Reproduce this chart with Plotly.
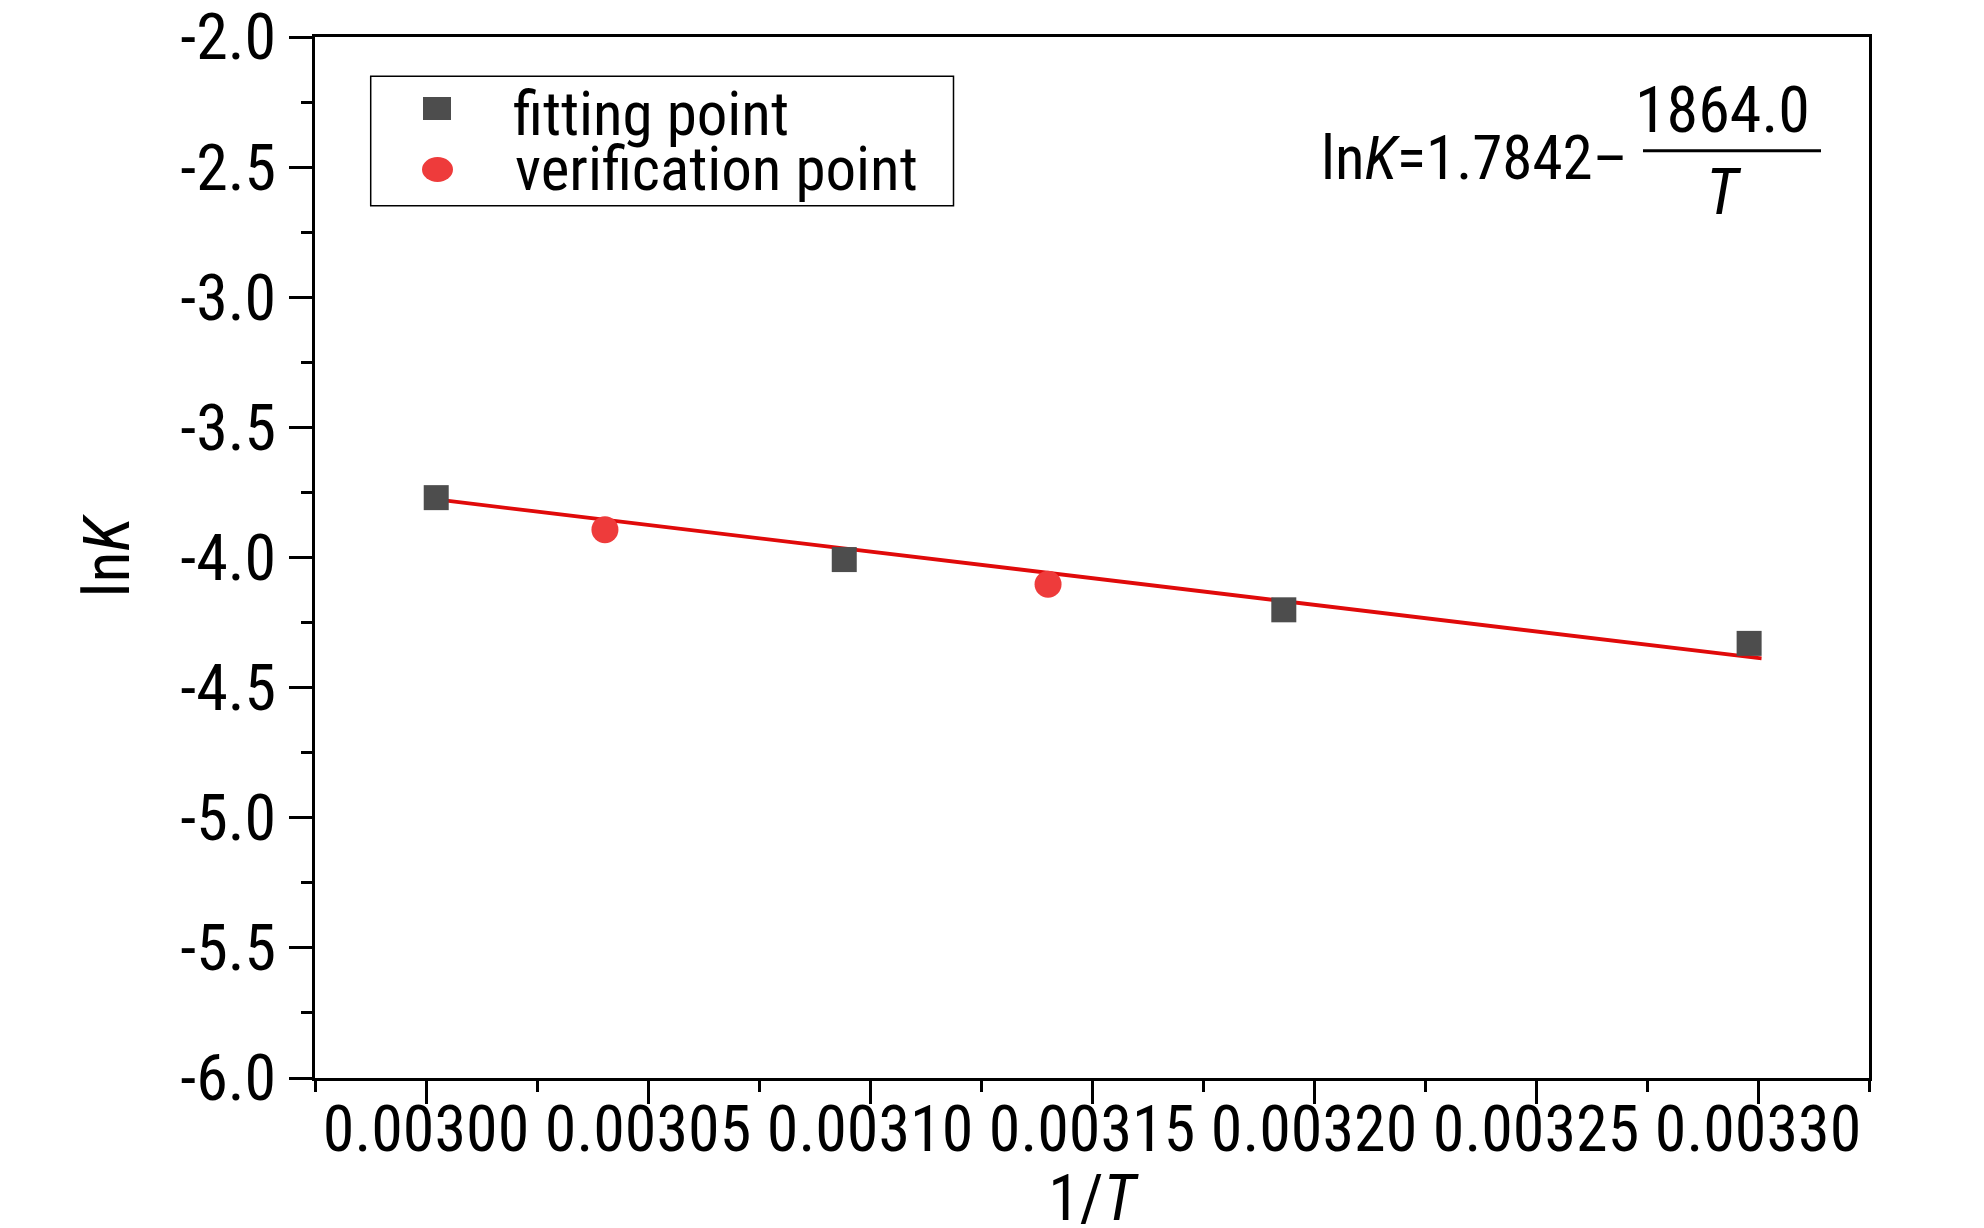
import plotly.graph_objects as go

# data
fit_x = [0.0030023, 0.0030942, 0.0031932, 0.0032980]
fit_y = [-3.770, -4.008, -4.201, -4.330]
ver_x = [0.0030403, 0.0031401]
ver_y = [-3.893, -4.103]
line_x = [0.0030023, 0.0033008]
line_y = [-3.777, -4.388]

x_ticks = [0.00300, 0.00305, 0.00310, 0.00315, 0.00320, 0.00325, 0.00330]
x_tick_text = ["0.00300", "0.00305", "0.00310", "0.00315", "0.00320", "0.00325", "0.00330"]
y_ticks = [-6.0, -5.5, -5.0, -4.5, -4.0, -3.5, -3.0, -2.5, -2.0]
y_tick_text = ["-6.0", "-5.5", "-5.0", "-4.5", "-4.0", "-3.5", "-3.0", "-2.5", "-2.0"]

FONT = "Roboto Condensed, Archivo Narrow, Liberation Sans, sans-serif"
FS = 64
W, H = 1984, 1228
L, R, T, B = 307, 1861, 29, 1070


def px(x):
    return (x - L) / (R - L)


def py(y):
    return (B - y) / (B - T)


fig = go.Figure()
fig.add_trace(go.Scatter(x=line_x, y=line_y, mode="lines",
                         line=dict(color="#E00A0A", width=3.8), showlegend=False))
fig.add_trace(go.Scatter(x=fit_x, y=fit_y, mode="markers", name="fitting point",
                         marker=dict(symbol="square", size=25, color="#4D4D4D"), showlegend=False))
fig.add_trace(go.Scatter(x=ver_x, y=ver_y, mode="markers", name="verification point",
                         marker=dict(symbol="circle", size=27, color="#EE3B3B"), showlegend=False))

axis_common = dict(
    showline=True, linewidth=3, linecolor="black", mirror=True,
    ticks="outside", ticklen=23, tickwidth=3, tickcolor="black",
    showgrid=False, zeroline=False, automargin=False, ticklabeloverflow="allow",
    tickfont=dict(family=FONT, size=FS, color="black"),
)

fig.update_xaxes(
    range=[0.002975 - 1e-9, 0.003325 + 1e-9], tickvals=x_ticks, ticktext=x_tick_text, tickangle=0,
    ticklabelstandoff=-30,
    minor=dict(dtick=0.000025, tick0=0.002975, ticks="outside", ticklen=11, tickwidth=3, tickcolor="black"),
    title=dict(text="1/<i>T</i>", font=dict(family=FONT, size=FS, color="black"), standoff=4),
    **axis_common,
)
fig.update_yaxes(
    range=[-6.0, -2.0], tickvals=y_ticks, ticktext=y_tick_text,
    minor=dict(dtick=0.25, tick0=-6.0, ticks="outside", ticklen=11, tickwidth=3, tickcolor="black"),
    title=dict(text="ln<i>K</i>", font=dict(family=FONT, size=FS, color="black"), standoff=30),
    **axis_common,
)

# legend drawn by hand so the rows sit as tight as in the original
shapes = [
    dict(type="rect", xref="paper", yref="paper", x0=px(362.7), x1=px(945.5), y0=py(197.7), y1=py(68.3),
         line=dict(color="black", width=1.5), fillcolor="rgba(0,0,0,0)"),
    dict(type="rect", xref="paper", yref="paper", x0=px(415), x1=px(443), y0=py(112), y1=py(89),
         line=dict(width=0), fillcolor="#4D4D4D"),
    dict(type="circle", xref="paper", yref="paper", x0=px(414), x1=px(445), y0=py(174), y1=py(149),
         line=dict(width=0), fillcolor="#EE3B3B"),
    # fraction bar of the equation
    dict(type="line", xref="paper", yref="paper", x0=px(1635), x1=px(1813), y0=py(142.7), y1=py(142.7),
         line=dict(color="black", width=3)),
]

txt_font = dict(family=FONT, size=61, color="black")
num_font = dict(family=FONT, size=FS, color="black")
annotations = [
    dict(text="fitting point", x=px(503), y=py(106), xanchor="left", yanchor="middle", font=txt_font),
    dict(text="verification point", x=px(505), y=py(161), xanchor="left", yanchor="middle", font=txt_font),
    dict(text="ln<i>K</i>=1.7842\u2013", x=px(1622), y=py(150), xanchor="right", yanchor="middle", font=txt_font),
    dict(text="1864.0", x=px(1714.5), y=py(102), xanchor="center", yanchor="middle", font=num_font),
    dict(text="<i>T</i>", x=px(1715.5), y=py(185), xanchor="center", yanchor="middle", font=num_font),
]
for a in annotations:
    a.update(xref="paper", yref="paper", showarrow=False)

fig.update_layout(
    width=W, height=H,
    margin=dict(l=L, r=W - R, t=T, b=H - B, pad=0),
    paper_bgcolor="white", plot_bgcolor="white",
    font=dict(family=FONT, color="black"),
    shapes=shapes, annotations=annotations,
    showlegend=False,
)

fig.write_html("out.html")
